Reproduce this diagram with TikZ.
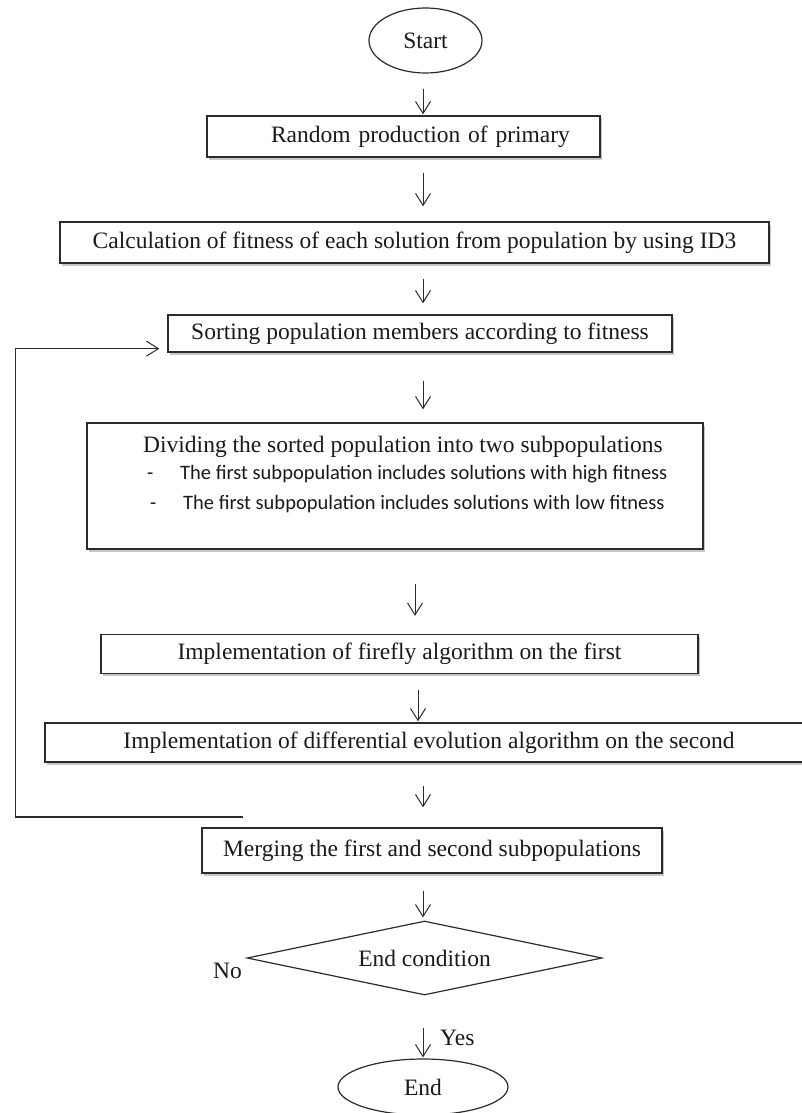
\documentclass[tikz,border=0pt]{standalone}
\usepackage{fontspec}
\setmainfont{Liberation Serif}
\newfontfamily\calib{Carlito}
\usetikzlibrary{arrows.meta,shapes.geometric,shadows,calc}
\definecolor{linec}{HTML}{2B2B2B}
\definecolor{txtc}{HTML}{1A1A1A}
\newcommand\bigf{\fontsize{23.5pt}{28pt}\selectfont}
\newcommand\sansf{\calib\fontsize{20.5pt}{24pt}\selectfont}
\begin{document}
\begin{tikzpicture}[x=1pt,y=-1pt,
  box/.style={rectangle, draw=linec, line width=1.3pt, fill=white, inner sep=0pt,
    font=\bigf, text=txtc, align=center,
    drop shadow={shadow xshift=2pt, shadow yshift=-2.5pt, fill=black, opacity=0.22}},
  oval/.style={ellipse, draw=linec, line width=1.2pt, fill=white, inner sep=0pt, font=\bigf, text=txtc},
  lbl/.style={font=\bigf, text=txtc, inner sep=0pt},
  sans/.style={font=\sansf, text=txtc, inner sep=0pt},
  arr/.style={draw=linec, line width=1pt, -{Straight Barb[length=12pt,width=15pt,line width=1pt]}},
  fline/.style={draw=linec, line width=1.2pt}]
\useasboundingbox[fill=white] (0,0) rectangle (802,1113);
\coordinate (ax) at (423,0);

\node[oval, minimum width=113pt, minimum height=65pt] (start) at (425.5,40.5) {Start};
\node[box, text width=393pt, minimum height=41pt] (box1) at (403.5,136.5) {\hspace*{34pt}Random production of primary};
\node[box, minimum width=709pt, minimum height=41pt] (box2) at (414.5,242.5) {Calculation of fitness of each solution from population by using ID3};
\node[box, minimum width=504pt, minimum height=37pt] (box3) at (420,333.5) {Sorting population members according to fitness};
\node[box, minimum width=616pt, minimum height=126pt] (box4) at (395,486) {};
\node[lbl, anchor=base west] (d0) at (143,452) {Dividing the sorted population into two subpopulations};
\node[sans, anchor=base west] (d1m) at (147,479) {-};
\node[sans, anchor=base west] (d1) at (180,479) {The first subpopulation includes solutions with high fitness};
\node[sans, anchor=base west] (d2m) at (150,509) {-};
\node[sans, anchor=base west] (d2) at (183,509) {The first subpopulation includes solutions with low fitness};
\node[box, minimum width=597pt, minimum height=39pt] (box5) at (399.5,654) {Implementation of firefly algorithm on the first};
\node[box, minimum width=761pt, minimum height=39pt] (box6) at (425.5,742.5) {\hspace*{7pt}Implementation of differential evolution algorithm on the second};
\node[box, minimum width=460pt, minimum height=45pt] (box7) at (432,850.5) {Merging the first and second subpopulations};
\node[diamond, draw=linec, line width=1.2pt, fill=white, inner sep=0pt, aspect=4.8,
  minimum width=355pt, minimum height=74pt, font=\bigf, text=txtc] (cond) at (424.5,958) {End condition};
\node[oval, minimum width=170pt, minimum height=56pt] (end) at (423,1087) {End};
\node[lbl, anchor=base west] (no) at (213,978) {No};
\node[lbl, anchor=base west] (yes) at (440,1045) {Yes};

\draw[arr, shorten <=15pt, shorten >=1pt] (start.south -| ax) -- (box1.north -| ax);
\draw[arr, shorten <=15pt, shorten >=15pt] (box1.south -| ax) -- (box2.north -| ax);
\draw[arr, shorten <=15pt, shorten >=11pt] (box2.south -| ax) -- (box3.north -| ax);
\draw[arr, shorten <=28pt, shorten >=13pt] (box3.south -| ax) -- (box4.north -| ax);
\draw[arr, shorten <=34pt, shorten >=18pt] ([xshift=-8pt]box4.south -| ax) -- ([xshift=-8pt]box5.north -| ax);
\draw[arr, shorten <=16pt, shorten >=1pt] ([xshift=-5pt]box5.south -| ax) -- ([xshift=-5pt]box6.north -| ax);
\draw[arr, shorten <=23pt, shorten >=20pt] (box6.south -| ax) -- (box7.north -| ax);
\draw[arr, shorten <=17pt, shorten >=3pt] (box7.south -| ax) -- (cond.north -| ax);
\draw[arr, shorten <=32pt, shorten >=1pt] (cond.south -| ax) -- (end.north -| ax);

\coordinate (fb) at (243,817);
\coordinate (fbc) at (15,817);
\draw[fline] (fb) -- (fbc);
\draw[arr] (fbc) |- ($(box3.south west)+(-8,-4)$);
\end{tikzpicture}
\end{document}
